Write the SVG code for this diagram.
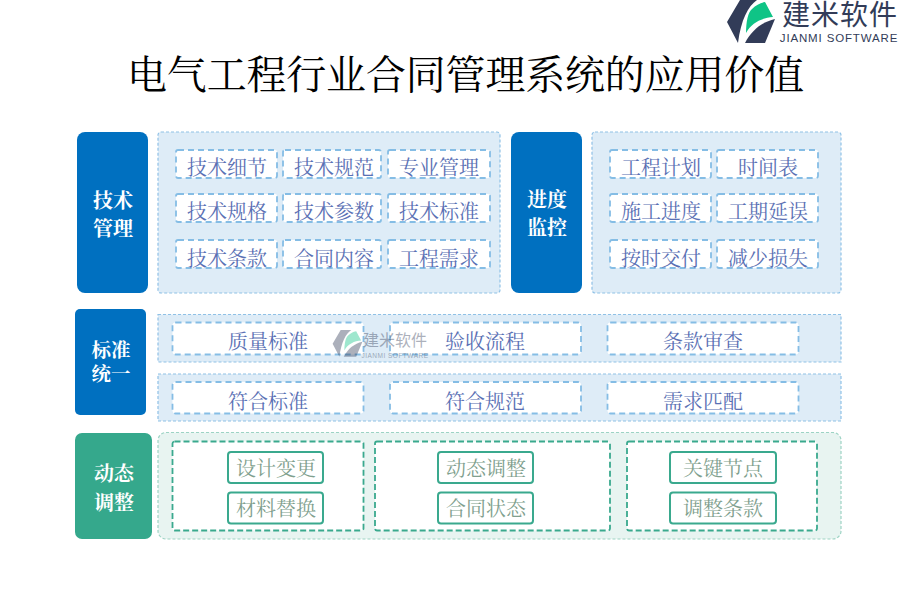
<svg xmlns="http://www.w3.org/2000/svg" width="900" height="600" viewBox="0 0 900 600">
<style>
text{font-family:"Noto Serif CJK SC","Liberation Serif","Noto Sans CJK SC",serif;text-anchor:middle}
.hb{fill:#0070c0}.hg{fill:#35a88c}
.ht{fill:#fff;font-size:20px;font-weight:700}
.pb{fill:#deecf7;stroke:#8fc1e6;stroke-width:1.2;stroke-dasharray:3 2}
.pg{fill:#e8f4f1;stroke:#9dd3c4;stroke-width:1.2;stroke-dasharray:3 2}
.ib{fill:#fff;stroke:#85bde5;stroke-width:1.8;stroke-dasharray:6 4}
.ig{fill:#fff;stroke:#3aa98e;stroke-width:1.8;stroke-dasharray:6 3}
.sg{fill:#fff;stroke:#3aa98e;stroke-width:2}
.tb{fill:#5a70b4;font-size:20px}
.tg{fill:#7f9f8e;font-size:20px}
.title{fill:#000;font-size:40px;letter-spacing:-.18px}
.dk{fill:#323c58}.gr{fill:#0fc486}
</style>
<defs>
<g id="logo">
<path class="dk" d="M1 22L14 0H31C22 6 15 20 12 43Z"/>
<path class="gr" d="M20 33C20 22 22 12 26 9C30 5 34 3 39 2L47 17C36 18 26 22 20 33Z"/>
<path class="dk" d="M49 19L39 43H19C26 30 36 22 49 19Z"/>
</g>
</defs>
<g id="logo-top">
<use href="#logo" transform="translate(726,0)"/>
<text x="840" y="25" style="font-family:'Noto Sans CJK SC',sans-serif;font-size:28px;letter-spacing:1px" fill="#323c58">建米软件</text>
<text x="839" y="42" style="font-family:'Liberation Sans',sans-serif;font-size:11.500px;letter-spacing:.85px" fill="#323c58">JIANMI SOFTWARE</text>
</g>
<text class="title" x="465.500" y="89">电气工程行业合同管理系统的应用价值</text>
<g id="tech">
<rect class="hb" x="77" y="132" width="71" height="161" rx="8"/>
<text class="ht" x="113" y="208">技术</text><text class="ht" x="113" y="236">管理</text>
<rect class="pb" x="158" y="132" width="342" height="161" rx="3"/>
<rect class="ib" x="176" y="150" width="101" height="28" rx="2"/><text class="tb" x="227" y="175">技术细节</text>
<rect class="ib" x="283" y="150" width="98" height="28" rx="2"/><text class="tb" x="334" y="175">技术规范</text>
<rect class="ib" x="388" y="150" width="102" height="28" rx="2"/><text class="tb" x="439" y="175">专业管理</text>
<rect class="ib" x="176" y="194" width="101" height="28" rx="2"/><text class="tb" x="227" y="219">技术规格</text>
<rect class="ib" x="283" y="194" width="98" height="28" rx="2"/><text class="tb" x="334" y="219">技术参数</text>
<rect class="ib" x="388" y="194" width="102" height="28" rx="2"/><text class="tb" x="439" y="219">技术标准</text>
<rect class="ib" x="176" y="240" width="101" height="28" rx="2"/><text class="tb" x="227" y="266">技术条款</text>
<rect class="ib" x="283" y="240" width="98" height="28" rx="2"/><text class="tb" x="334" y="266">合同内容</text>
<rect class="ib" x="388" y="240" width="102" height="28" rx="2"/><text class="tb" x="439" y="266">工程需求</text>
</g>
<g id="progress">
<rect class="hb" x="511" y="132" width="71" height="161" rx="8"/>
<text class="ht" x="547" y="207">进度</text><text class="ht" x="547" y="235">监控</text>
<rect class="pb" x="592" y="132" width="249" height="161" rx="3"/>
<rect class="ib" x="610" y="150" width="101" height="28" rx="2"/><text class="tb" x="661" y="175">工程计划</text>
<rect class="ib" x="717" y="150" width="101" height="28" rx="2"/><text class="tb" x="768" y="175">时间表</text>
<rect class="ib" x="610" y="194" width="101" height="28" rx="2"/><text class="tb" x="661" y="219">施工进度</text>
<rect class="ib" x="717" y="194" width="101" height="28" rx="2"/><text class="tb" x="768" y="219">工期延误</text>
<rect class="ib" x="610" y="240" width="101" height="28" rx="2"/><text class="tb" x="661" y="266">按时交付</text>
<rect class="ib" x="717" y="240" width="101" height="28" rx="2"/><text class="tb" x="768" y="266">减少损失</text>
</g>
<g id="standard">
<rect class="hb" x="75" y="309" width="71" height="106" rx="5"/>
<text class="ht" style="font-size:19.500px"><tspan x="111" y="357">标准</tspan><tspan x="111" y="381">统一</tspan></text>
<rect class="pb" x="158" y="314.500" width="683" height="47.500"/>
<rect class="pb" x="158" y="374" width="683" height="47"/>
<rect class="ib" x="172.500" y="322.500" width="191" height="32" rx="3"/><text class="tb" x="268" y="349">质量标准</text>
<rect class="ib" x="390" y="322.500" width="191" height="32" rx="3"/><text class="tb" x="485" y="349">验收流程</text>
<rect class="ib" x="607.500" y="322.500" width="191" height="32" rx="3"/><text class="tb" x="703" y="349">条款审查</text>
<rect class="ib" x="172.500" y="382" width="191" height="31.500" rx="3"/><text class="tb" x="268" y="409">符合标准</text>
<rect class="ib" x="390" y="382" width="191" height="31.500" rx="3"/><text class="tb" x="485" y="409">符合规范</text>
<rect class="ib" x="607.500" y="382" width="191" height="31.500" rx="3"/><text class="tb" x="703" y="409">需求匹配</text>
</g>
<g id="dynamic">
<rect class="hg" x="75" y="433" width="77" height="106" rx="7"/>
<text class="ht" x="114" y="481">动态</text><text class="ht" x="114" y="510">调整</text>
<rect class="pg" x="158" y="432.500" width="683" height="106.500" rx="8"/>
<rect class="ig" x="172.500" y="441.500" width="191" height="89" rx="2"/>
<rect class="ig" x="375" y="441.500" width="235" height="89" rx="2"/>
<rect class="ig" x="627" y="441.500" width="190" height="89" rx="2"/>
<rect class="sg" x="228" y="452" width="95" height="31" rx="3"/><text class="tg" x="276" y="475.500">设计变更</text>
<rect class="sg" x="228" y="492.500" width="95" height="31" rx="3"/><text class="tg" x="276" y="515.500">材料替换</text>
<rect class="sg" x="438" y="452" width="95" height="31" rx="3"/><text class="tg" x="486" y="475.500">动态调整</text>
<rect class="sg" x="438" y="492.500" width="95" height="31" rx="3"/><text class="tg" x="486" y="515.500">合同状态</text>
<rect class="sg" x="670" y="452" width="106" height="31" rx="3"/><text class="tg" x="723" y="475.500">关键节点</text>
<rect class="sg" x="670" y="492.500" width="106" height="31" rx="3"/><text class="tg" x="723" y="515.500">调整条款</text>
</g>
<g id="watermark" opacity=".4">
<use href="#logo" transform="translate(332,330) scale(.62)"/>
<text x="395" y="346" style="font-family:'Noto Sans CJK SC',sans-serif;font-size:16px" fill="#323c58">建米软件</text>
<text x="395" y="358" style="font-family:'Liberation Sans',sans-serif;font-size:6.500px;letter-spacing:.5px" fill="#323c58">JIANMI SOFTWARE</text>
</g>
</svg>
